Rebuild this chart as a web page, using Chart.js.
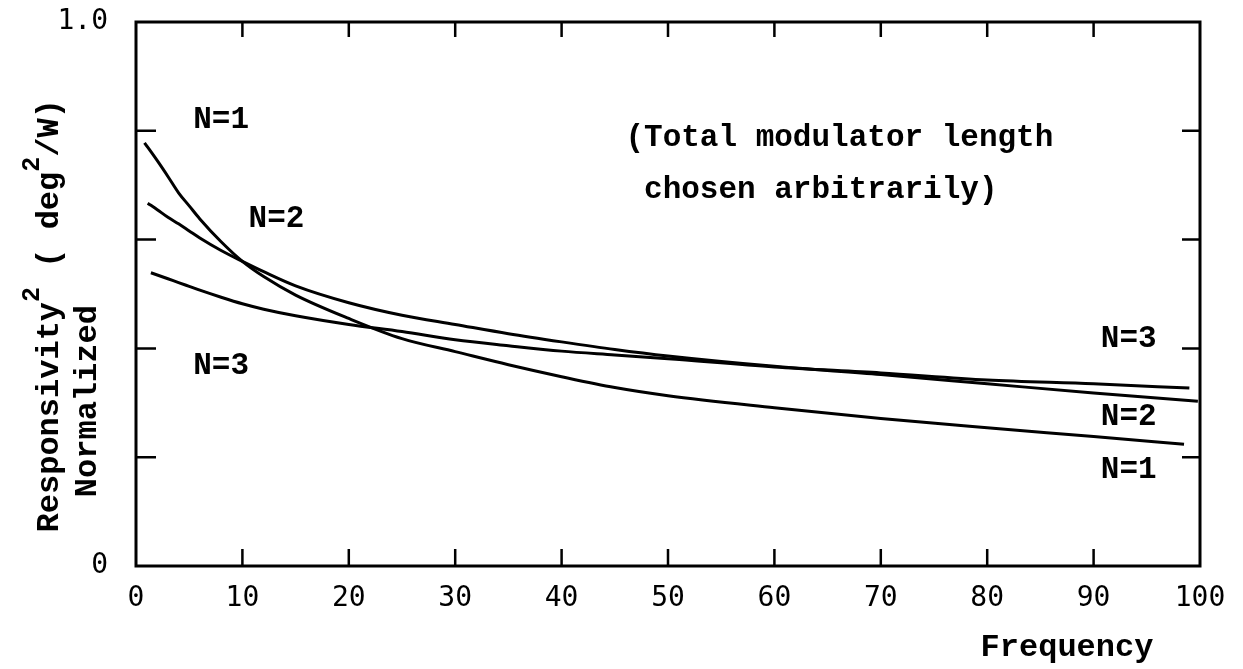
<!DOCTYPE html>
<html lang="en">
<head>
    <meta charset="UTF-8">
    <title>Normalized Responsivity vs Frequency</title>
    <script src="https://cdn.jsdelivr.net/npm/chart.js"></script>
    <style>
        html, body { margin: 0; padding: 0; background: #fff; }
        #wrap { width: 1243px; height: 669px; }
    </style>
</head>
<body>
    <div id="wrap"><canvas id="myChart" width="1243" height="669"></canvas></div>
    <script>
        // Curves (frequency, normalized responsivity^2)
        const n1Freq = [0.8, 2, 3, 4, 5, 6, 8, 10, 12, 15, 20, 25, 30, 35, 40, 45, 50, 60, 70, 80, 90, 98.5];
        const n1Resp = [0.778, 0.745, 0.716, 0.686, 0.662, 0.638, 0.596, 0.560, 0.532, 0.498, 0.455, 0.418, 0.394, 0.370, 0.348, 0.328, 0.313, 0.291, 0.271, 0.254, 0.238, 0.224];

        const n2Freq = [1.1, 2, 3, 4, 5, 6, 8, 10, 12, 15, 20, 25, 30, 35, 40, 45, 50, 60, 70, 80, 90, 99.8];
        const n2Resp = [0.667, 0.655, 0.641, 0.629, 0.616, 0.603, 0.580, 0.560, 0.541, 0.515, 0.484, 0.461, 0.444, 0.427, 0.412, 0.398, 0.386, 0.367, 0.352, 0.335, 0.318, 0.303];

        const n3Freq = [1.4, 2, 3, 4, 5, 6, 8, 10, 12, 15, 20, 25, 30, 35, 40, 45, 50, 60, 70, 80, 90, 99];
        const n3Resp = [0.539, 0.535, 0.528, 0.521, 0.514, 0.507, 0.494, 0.482, 0.472, 0.460, 0.444, 0.431, 0.416, 0.405, 0.395, 0.388, 0.381, 0.366, 0.355, 0.342, 0.335, 0.327];

        // Axis ticks
        const xTicks = [0, 10, 20, 30, 40, 50, 60, 70, 80, 90, 100];
        const yTicks = [0, 0.2, 0.4, 0.6, 0.8, 1.0];
        const yTickText = { 0: '0', 1: '1.0' };

        // Curve labels: [text, frequency, value]
        const curveLabels = [
            ['N=1', 8, 0.820],
            ['N=2', 13.2, 0.638],
            ['N=3', 8, 0.367],
            ['N=3', 93.3, 0.417],
            ['N=2', 93.3, 0.274],
            ['N=1', 93.3, 0.177]
        ];

        // y title pieces: [text, superscript?]
        const yTitle = [['Responsivity', false], ['2', true], [' ( deg', false], ['2', true], ['/W)', false]];

        const typeFont = '"Liberation Mono", "Courier New", monospace';
        const tickFont = '"DejaVu Sans Mono", monospace';

        function toPoints(xs, ys) {
            return xs.map((x, i) => ({ x: x, y: ys[i] }));
        }

        function makeSet(label, xs, ys) {
            return {
                label: label,
                data: toPoints(xs, ys),
                borderColor: '#000',
                borderWidth: 3,
                pointRadius: 0,
                fill: false,
                cubicInterpolationMode: 'monotone'
            };
        }

        function drawPieces(ctx, pieces, big, small) {
            let w = 0;
            pieces.forEach(p => {
                ctx.font = (p[1] ? small : big);
                w += ctx.measureText(p[0]).width;
            });
            let x = -w / 2;
            ctx.textAlign = 'left';
            pieces.forEach(p => {
                ctx.font = (p[1] ? small : big);
                ctx.fillText(p[0], x, p[1] ? -17 : 0);
                x += ctx.measureText(p[0]).width;
            });
        }

        // frame, inward ticks and the typed texts
        const paperPlugin = {
            id: 'paper',
            afterDatasetsDraw(chart) {
                const ctx = chart.ctx;
                const a = chart.chartArea;
                const xs = chart.scales.x;
                const ys = chart.scales.y;
                ctx.save();
                ctx.strokeStyle = '#000';
                ctx.lineWidth = 3;
                ctx.strokeRect(a.left, a.top, a.right - a.left, a.bottom - a.top);

                ctx.lineWidth = 2.5;
                ctx.beginPath();
                xTicks.slice(1, -1).forEach(v => {
                    const px = xs.getPixelForValue(v);
                    ctx.moveTo(px, a.bottom); ctx.lineTo(px, a.bottom - 17);
                    ctx.moveTo(px, a.top); ctx.lineTo(px, a.top + 15);
                });
                yTicks.slice(1, -1).forEach(v => {
                    const py = ys.getPixelForValue(v);
                    ctx.moveTo(a.left, py); ctx.lineTo(a.left + 20, py);
                    ctx.moveTo(a.right, py); ctx.lineTo(a.right - 18, py);
                });
                ctx.stroke();

                const big = 'bold 31px ' + typeFont;
                const title = 'bold 32px ' + typeFont;
                const small = 'bold 25px ' + typeFont;
                ctx.fillStyle = '#000';
                ctx.font = big;
                ctx.textAlign = 'center';
                ctx.textBaseline = 'middle';
                curveLabels.forEach(l => {
                    ctx.fillText(l[0], xs.getPixelForValue(l[1]), ys.getPixelForValue(l[2]));
                });

                ctx.textAlign = 'left';
                ctx.fillText('(Total modulator length', xs.getPixelForValue(46), ys.getPixelForValue(0.786));
                ctx.fillText(' chosen arbitrarily)', xs.getPixelForValue(46), ys.getPixelForValue(0.690));

                ctx.font = title;
                ctx.textAlign = 'center';
                ctx.fillText('Frequency', xs.getPixelForValue(87.5), 648);

                // y title, two rotated lines
                ctx.save();
                ctx.translate(50, ys.getPixelForValue(0.46));
                ctx.rotate(-Math.PI / 2);
                drawPieces(ctx, yTitle, title, small);
                ctx.restore();
                ctx.save();
                ctx.font = title;
                ctx.textAlign = 'center';
                ctx.translate(88, ys.getPixelForValue(0.303));
                ctx.rotate(-Math.PI / 2);
                ctx.fillText('Normalized', 0, 0);
                ctx.restore();
                ctx.restore();
            }
        };

        const ctx = document.getElementById('myChart').getContext('2d');
        new Chart(ctx, {
            type: 'line',
            data: {
                datasets: [
                    makeSet('N=1', n1Freq, n1Resp),
                    makeSet('N=2', n2Freq, n2Resp),
                    makeSet('N=3', n3Freq, n3Resp)
                ]
            },
            options: {
                responsive: false,
                animation: false,
                layout: { padding: { top: 22, right: 43, left: 0, bottom: 0 } },
                plugins: {
                    legend: { display: false },
                    tooltip: { enabled: false }
                },
                scales: {
                    x: {
                        type: 'linear',
                        min: 0,
                        max: 100,
                        grid: { display: false },
                        border: { display: false },
                        afterBuildTicks: s => { s.ticks = xTicks.map(v => ({ value: v })); },
                        afterFit: s => { s.height = 103; s.paddingLeft = 0; s.paddingRight = 0; },
                        ticks: {
                            color: '#000',
                            padding: 8,
                            maxRotation: 0,
                            font: { family: tickFont, size: 28 },
                            callback: v => String(v)
                        }
                    },
                    y: {
                        type: 'linear',
                        min: 0,
                        max: 1,
                        grid: { display: false },
                        border: { display: false },
                        afterBuildTicks: s => { s.ticks = yTicks.map(v => ({ value: v })); },
                        afterFit: s => { s.width = 136; s.paddingTop = 0; s.paddingBottom = 0; },
                        ticks: {
                            color: '#000',
                            padding: 20,
                            font: { family: tickFont, size: 28 },
                            callback: v => (yTickText[v] !== undefined ? yTickText[v] : '')
                        }
                    }
                }
            },
            plugins: [paperPlugin]
        });
    </script>
</body>
</html>
